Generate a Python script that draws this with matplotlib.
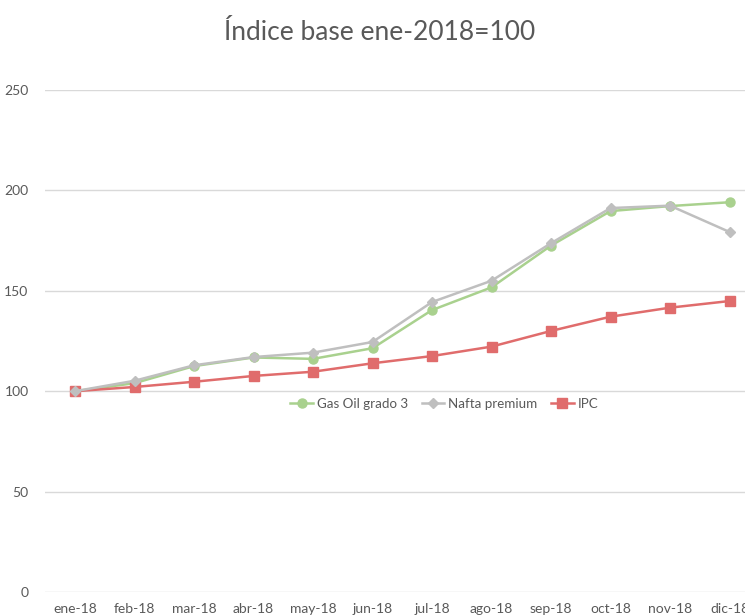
import matplotlib
matplotlib.use("Agg")
import matplotlib.pyplot as plt
import numpy as np

months = ["ene-18", "feb-18", "mar-18", "abr-18", "may-18", "jun-18",
          "jul-18", "ago-18", "sep-18", "oct-18", "nov-18", "dic-18"]
gas_oil = [100, 104.0, 112.5, 116.8, 116.1, 121.4, 140.4, 151.7, 172.5, 189.7, 192.2, 194.1]
nafta = [100, 105.2, 112.9, 117.0, 119.2, 124.5, 144.4, 155.0, 173.7, 191.2, 192.4, 179.3]
ipc = [100, 102.1, 104.7, 107.6, 109.7, 113.9, 117.5, 122.2, 130.0, 137.1, 141.6, 144.9]
yticks = [0, 50, 100, 150, 200, 250]

plt.rcParams['font.family'] = ['Lato', 'DejaVu Sans']
txt = '#595959'

W, H = 745, 616
fig = plt.figure(figsize=(W/100, H/100), dpi=100)
left = 45.25 / W
bottom = (H - 592) / H
width = 714 / W
height = (592 - 90) / H
ax = fig.add_axes([left, bottom, width, height])

x = np.arange(len(months))
ax.plot(x, gas_oil, color='#A9D18E', lw=1.8, marker='o', ms=6.5, label='Gas Oil grado 3', zorder=3)
ax.plot(x, nafta, color='#BFBFBF', lw=1.8, marker='D', ms=5, label='Nafta premium', zorder=4)
ax.plot(x, ipc, color='#E06C6C', lw=1.8, marker='s', ms=7, label='IPC', zorder=3)

ax.set_xlim(-0.5, 11.5)
ax.set_ylim(0, 250)
ax.set_yticks(yticks)
ax.set_xticks(x)
ax.set_xticklabels(months)
ax.grid(axis='y', color='#D9D9D9', lw=1)
ax.set_axisbelow(True)
for s in ax.spines.values():
    s.set_visible(False)
ax.tick_params(axis='both', length=0, colors=txt, labelsize=10)
ax.tick_params(axis='y', pad=12)
ax.tick_params(axis='x', pad=8)

fig.text(380 / W, 1 - 32 / H, 'Índice base ene-2018=100', ha='center', va='center',
         fontsize=19, color=txt, fontweight='normal')

leg = ax.legend(loc='center', bbox_to_anchor=(0.559, 0.375), ncol=3, frameon=False,
                fontsize=9.6, labelcolor=txt, handlelength=1.7, columnspacing=1.0,
                handletextpad=0.3)

fig.savefig('out.png', dpi=100, facecolor='white')
